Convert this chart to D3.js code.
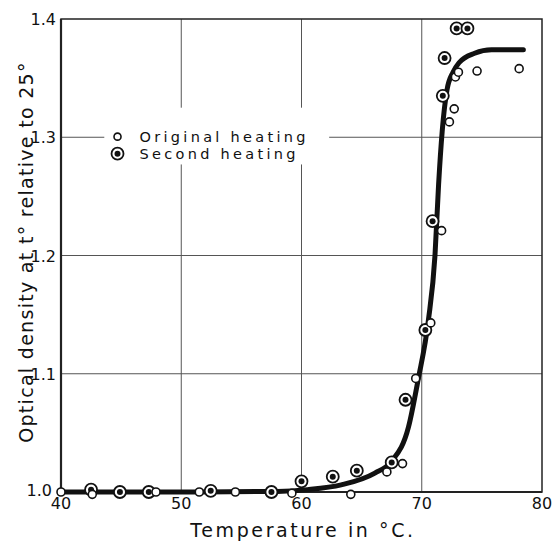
<!DOCTYPE html>
<html>
<head>
<meta charset="utf-8">
<script src="https://cdn.jsdelivr.net/npm/d3@7"></script>
<style>
  body { margin: 0; background: #fff; }
  text { font-family: "DejaVu Sans", sans-serif; fill: #111; }
</style>
</head>
<body>
<div id="chart"></div>
<script>
const width = 555;
const height = 542;

// data: [temperature, optical density]
const originalHeating = [
  [40, 1.0], [42.6, 0.998], [47.9, 1.0], [51.5, 1.0], [54.5, 1.0], [59.2, 0.999],
  [64.1, 0.998], [67.1, 1.017], [68.4, 1.024], [69.5, 1.096], [70.75, 1.143],
  [71.65, 1.221], [72.3, 1.313], [72.7, 1.324], [72.8, 1.351], [73.05, 1.355],
  [74.6, 1.356], [78.1, 1.358]
];
const secondHeating = [
  [42.5, 1.002], [44.9, 1.0], [47.3, 1.0], [52.45, 1.001], [57.5, 1.0],
  [60.0, 1.009], [62.6, 1.013], [64.6, 1.018], [67.5, 1.025], [68.65, 1.078],
  [70.3, 1.137], [70.9, 1.229], [71.75, 1.335], [71.9, 1.367], [72.9, 1.392],
  [73.8, 1.392]
];
const fittedCurve = [
  [40, 1.0], [50, 1.0], [58, 1.0005], [60.5, 1.002], [63.3, 1.006], [66.1, 1.016],
  [67.5, 1.026], [68.9, 1.055], [69.7, 1.095], [70.55, 1.145], [71.1, 1.2],
  [71.4, 1.26], [71.7, 1.305], [72.1, 1.34], [72.6, 1.355], [73.1, 1.363],
  [74.4, 1.371], [75.8, 1.374], [78.45, 1.374]
];
const xTicks = [40, 50, 60, 70, 80];
const yTicks = [1.0, 1.1, 1.2, 1.3, 1.4];
const legendLabels = ["Original heating", "Second heating"];

const margin = {top: 19, right: 13, bottom: 50, left: 61};

const svg = d3.select("#chart")
  .append("svg")
  .attr("width", width)
  .attr("height", height);

//scales
const x = d3.scaleLinear()
  .domain([40, 80])
  .range([margin.left, width - margin.right]);

const y = d3.scaleLinear()
  .domain([1.0, 1.4])
  .range([height - margin.bottom, margin.top]);

//grid
svg.append("g")
  .selectAll("line")
  .data(xTicks.slice(1, -1))
  .enter()
  .append("line")
  .attr("x1", d => x(d)).attr("x2", d => x(d))
  .attr("y1", y(1.4)).attr("y2", y(1.0))
  .attr("stroke", "#555")
  .attr("stroke-width", 1);

svg.append("g")
  .selectAll("line")
  .data(yTicks.slice(1, -1))
  .enter()
  .append("line")
  .attr("x1", x(40)).attr("x2", x(80))
  .attr("y1", d => y(d)).attr("y2", d => y(d))
  .attr("stroke", "#555")
  .attr("stroke-width", 1);

//white box behind legend
svg.append("rect")
  .attr("x", x(43.6)).attr("y", y(1.325))
  .attr("width", x(62.3) - x(43.6))
  .attr("height", y(1.277) - y(1.325))
  .attr("fill", "#fff");

//frame
svg.append("rect")
  .attr("x", x(40)).attr("y", y(1.4))
  .attr("width", x(80) - x(40))
  .attr("height", y(1.0) - y(1.4))
  .attr("fill", "none")
  .attr("stroke", "#222")
  .attr("stroke-width", 1.5);

svg.append("line")
  .attr("x1", x(40)).attr("x2", x(40))
  .attr("y1", y(1.4)).attr("y2", y(1.0))
  .attr("stroke", "#222").attr("stroke-width", 2.2);
svg.append("line")
  .attr("x1", x(40)).attr("x2", x(80))
  .attr("y1", y(1.0)).attr("y2", y(1.0))
  .attr("stroke", "#222").attr("stroke-width", 2.2);

//tick labels
svg.append("g")
  .selectAll("text")
  .data(xTicks)
  .enter()
  .append("text")
  .attr("x", d => x(d))
  .attr("y", 509)
  .attr("text-anchor", "middle")
  .attr("font-size", 16)
  .text(d => d);

svg.append("g")
  .selectAll("text")
  .data(yTicks)
  .enter()
  .append("text")
  .attr("x", d => d === 1.0 ? 52 : 56)
  .attr("y", d => y(d) + (d === 1.0 ? 4 : 6))
  .attr("text-anchor", "end")
  .attr("font-size", 16)
  .text(d => d.toFixed(1));

//axis titles
svg.append("text")
  .attr("x", 303)
  .attr("y", 537)
  .attr("text-anchor", "middle")
  .attr("font-size", 19)
  .attr("letter-spacing", 2.6)
  .text("Temperature in °C.");

svg.append("text")
  .attr("transform", "translate(33,252) rotate(-90)")
  .attr("text-anchor", "middle")
  .attr("font-size", 19)
  .attr("letter-spacing", 1.3)
  .text("Optical density at t° relative to 25°");

//fitted curve
const line = d3.line()
  .x(d => x(d[0]))
  .y(d => y(d[1]))
  .curve(d3.curveMonotoneX);

svg.append("path")
  .datum(fittedCurve)
  .attr("d", line)
  .attr("fill", "none")
  .attr("stroke", "#111")
  .attr("stroke-width", 5)
  .attr("stroke-linecap", "round");

//points
function openCircle(sel) {
  sel.append("circle")
    .attr("r", 4)
    .attr("fill", "#fff")
    .attr("stroke", "#111")
    .attr("stroke-width", 1.6);
}
function bullseye(sel) {
  sel.append("circle")
    .attr("r", 6)
    .attr("fill", "#fff")
    .attr("stroke", "#111")
    .attr("stroke-width", 1.8);
  sel.append("circle")
    .attr("r", 3)
    .attr("fill", "#111");
}

svg.append("g")
  .selectAll("g")
  .data(secondHeating)
  .enter()
  .append("g")
  .attr("transform", d => `translate(${x(d[0])},${y(d[1])})`)
  .call(bullseye);

svg.append("g")
  .selectAll("g")
  .data(originalHeating)
  .enter()
  .append("g")
  .attr("transform", d => `translate(${x(d[0])},${y(d[1])})`)
  .call(openCircle);

//legend
const legend = svg.append("g");
const lg = legend.selectAll("g")
  .data(legendLabels)
  .enter()
  .append("g")
  .attr("transform", (d, i) => `translate(${x(44.7)},${y(1.3005) + i * 17})`);

lg.filter((d, i) => i === 0).call(openCircle);
lg.filter((d, i) => i === 0).select("circle").attr("r", 3.5);
lg.filter((d, i) => i === 1).call(bullseye);

lg.append("text")
  .attr("x", 22)
  .attr("y", 5)
  .attr("font-size", 14.5)
  .attr("letter-spacing", 3.3)
  .text(d => d);
</script>
</body>
</html>
